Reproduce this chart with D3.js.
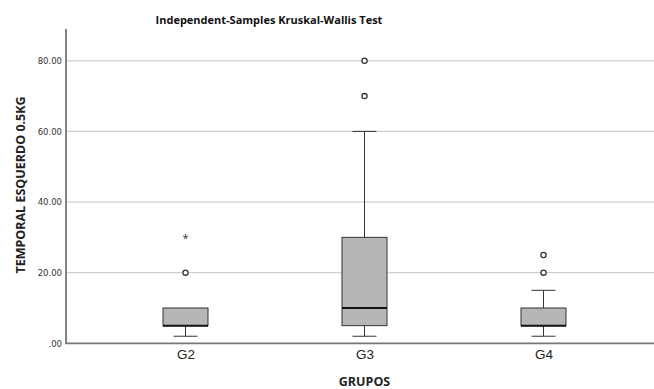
<!DOCTYPE html>
<html>
<head>
<meta charset="utf-8">
<script src="https://cdn.jsdelivr.net/npm/d3@7"></script>
<style>
  html, body { margin: 0; padding: 0; background: #fff; }
  svg { display: block; font-family: "Open Sans", "DejaVu Sans", sans-serif; }
</style>
</head>
<body>
<svg id="chart" width="654" height="389"></svg>
<script>
// Box-plot summaries per group: whiskers, quartiles, median
const groups     = ["G2", "G3", "G4"];
const whiskerLow = [2, 2, 2];
const q1         = [5, 5, 5];
const median     = [5, 10, 5];
const q3         = [10, 30, 10];
const whiskerHigh= [10, 60, 15];
// Outliers (circles) and extreme values (stars)
const outliers   = [[20], [70, 80], [20, 25]];
const extremes   = [[30], [], []];
const yTicks     = [0, 20, 40, 60, 80];
const yTickLabels= [".00", "20.00", "40.00", "60.00", "80.00"];

const svg = d3.select("#chart");
const W = 654;

const y = d3.scaleLinear().domain([0, 89]).range([343.3, 29]);
const x = d3.scalePoint().domain(groups).range([66, 663]).padding(0.6676);
const boxW = 45, capW = 24;

// Gridlines
svg.append("g").selectAll("line").data(yTicks.filter(d => d > 0)).join("line")
  .attr("x1", 66).attr("x2", W)
  .attr("y1", d => y(d)).attr("y2", d => y(d))
  .attr("stroke", "#cfcfcf").attr("stroke-width", 1.2);

// Y axis
const yAxis = d3.axisLeft(y).tickValues(yTicks)
  .tickFormat((d, i) => yTickLabels[i]).tickSize(0).tickPadding(4);
const gy = svg.append("g").attr("transform", "translate(66,0)").call(yAxis);
gy.select(".domain").remove();
gy.selectAll("text").attr("font-size", 8.5).attr("fill", "#333")
  .attr("font-family", "'DejaVu Sans', sans-serif");
svg.append("line").attr("x1", 66).attr("x2", 66).attr("y1", 29).attr("y2", y(0))
  .attr("stroke", "#777").attr("stroke-width", 1.8);

// X axis
const xAxis = d3.axisBottom(x).tickSize(0).tickPadding(6);
const gx = svg.append("g").attr("transform", `translate(0,${y(0)})`).call(xAxis);
gx.select(".domain").remove();
gx.selectAll("text").attr("font-size", 13.5).attr("fill", "#222");
svg.append("line").attr("x1", 65).attr("x2", W).attr("y1", y(0)).attr("y2", y(0))
  .attr("stroke", "#777").attr("stroke-width", 1.8);

// Boxes
const data = groups.map((g, i) => ({
  g, lo: whiskerLow[i], q1: q1[i], med: median[i], q3: q3[i], hi: whiskerHigh[i],
  out: outliers[i], ext: extremes[i]
}));

const box = svg.append("g").selectAll("g").data(data).join("g");

// Whisker stems
box.append("line")
  .attr("x1", d => x(d.g)).attr("x2", d => x(d.g))
  .attr("y1", d => y(d.hi)).attr("y2", d => y(d.q3))
  .attr("stroke", "#333").attr("stroke-width", 1);
box.append("line")
  .attr("x1", d => x(d.g)).attr("x2", d => x(d.g))
  .attr("y1", d => y(d.q1)).attr("y2", d => y(d.lo))
  .attr("stroke", "#333").attr("stroke-width", 1);
// Whisker caps
box.filter(d => d.hi > d.q3).append("line")
  .attr("x1", d => x(d.g) - capW / 2).attr("x2", d => x(d.g) + capW / 2)
  .attr("y1", d => y(d.hi)).attr("y2", d => y(d.hi))
  .attr("stroke", "#333").attr("stroke-width", 1);
box.append("line")
  .attr("x1", d => x(d.g) - capW / 2).attr("x2", d => x(d.g) + capW / 2)
  .attr("y1", d => y(d.lo)).attr("y2", d => y(d.lo))
  .attr("stroke", "#333").attr("stroke-width", 1);

// Box body
box.append("rect")
  .attr("x", d => x(d.g) - boxW / 2).attr("width", boxW)
  .attr("y", d => y(d.q3)).attr("height", d => y(d.q1) - y(d.q3))
  .attr("fill", "#b6b6b6").attr("stroke", "#333").attr("stroke-width", 1);
// Median
box.append("line")
  .attr("x1", d => x(d.g) - boxW / 2).attr("x2", d => x(d.g) + boxW / 2)
  .attr("y1", d => y(d.med)).attr("y2", d => y(d.med))
  .attr("stroke", "#111").attr("stroke-width", 2);

// Outliers
box.selectAll("circle").data(d => d.out.map(v => ({ g: d.g, v }))).join("circle")
  .attr("cx", d => x(d.g)).attr("cy", d => y(d.v)).attr("r", 2.6)
  .attr("fill", "#fff").attr("stroke", "#333").attr("stroke-width", 1.3);
// Extremes
box.selectAll("text.ext").data(d => d.ext.map(v => ({ g: d.g, v }))).join("text")
  .attr("class", "ext")
  .attr("x", d => x(d.g)).attr("y", d => y(d.v) + 4.5)
  .attr("text-anchor", "middle").attr("font-size", 11).attr("fill", "#333")
  .text("*");

// Titles
svg.append("text").attr("x", 269).attr("y", 24).attr("text-anchor", "middle")
  .attr("font-size", 11).attr("font-weight", "bold").attr("fill", "#111")
  .text("Independent-Samples Kruskal-Wallis Test");
svg.append("text").attr("x", 364.5).attr("y", 386).attr("text-anchor", "middle")
  .attr("font-size", 12.5).attr("font-weight", "bold").attr("fill", "#222")
  .text("GRUPOS");
svg.append("text").attr("transform", "translate(25,185) rotate(-90)")
  .attr("text-anchor", "middle")
  .attr("font-size", 12.5).attr("font-weight", "bold").attr("fill", "#222")
  .text("TEMPORAL ESQUERDO 0.5KG");
</script>
</body>
</html>
